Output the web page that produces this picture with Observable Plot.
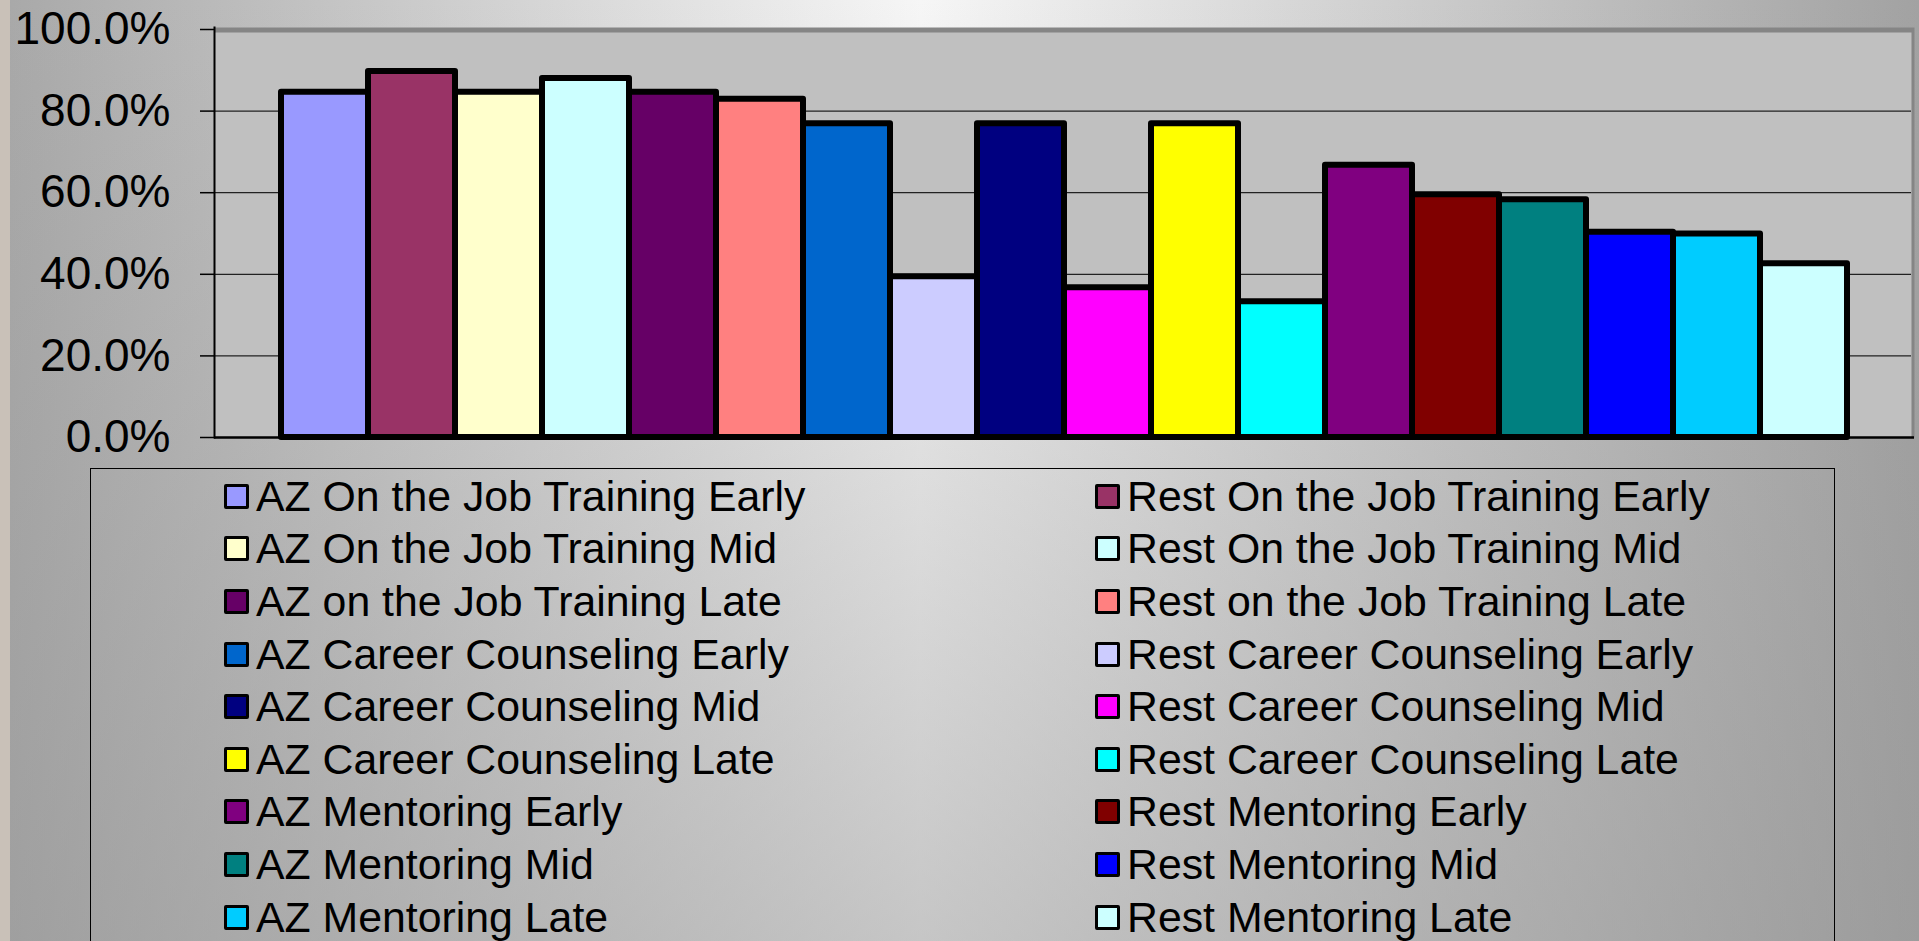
<!DOCTYPE html>
<html>
<head>
<meta charset="utf-8">
<script src="https://cdn.jsdelivr.net/npm/d3@7"></script>
<script src="https://cdn.jsdelivr.net/npm/@observablehq/plot@0.6"></script>
<style>
html, body { margin: 0; padding: 0; width: 1919px; height: 941px; overflow: hidden; }
body {
  position: relative;
  font-family: "Liberation Sans", Arial, sans-serif;
  background:
    linear-gradient(to right, #c9c1b8 0px, #c9c1b8 10px, transparent 10px),
    linear-gradient(to bottom, rgba(150,150,150,0) 0%, rgba(150,150,150,0.5) 100%),
    linear-gradient(to right, #a8a8a8 0%, #f6f6f6 48%, #a2a2a2 100%);
}
#chart { position: absolute; left: 0; top: 0; }
#legend {
  position: absolute; left: 90px; top: 468px; width: 1745px; height: 560px;
  border: 1.5px solid #000; box-sizing: border-box;
  display: grid; grid-template-columns: 871px auto; grid-auto-rows: 52.6px;
  padding-left: 133px; padding-top: 1px;
}
.item { display: flex; align-items: center; font-size: 42.8px; color: #000; white-space: nowrap; }
.sw { width: 25px; height: 25px; border: 3.5px solid #000; box-sizing: border-box; margin-right: 7px; border-radius: 2px; flex: none; }
</style>
</head>
<body>
<div id="chart"></div>
<div id="legend"></div>
<script>
const series = [
  "AZ On the Job Training Early", "Rest On the Job Training Early",
  "AZ On the Job Training Mid", "Rest On the Job Training Mid",
  "AZ on the Job Training Late", "Rest on the Job Training Late",
  "AZ Career Counseling Early", "Rest Career Counseling Early",
  "AZ Career Counseling Mid", "Rest Career Counseling Mid",
  "AZ Career Counseling Late", "Rest Career Counseling Late",
  "AZ Mentoring Early", "Rest Mentoring Early",
  "AZ Mentoring Mid", "Rest Mentoring Mid",
  "AZ Mentoring Late", "Rest Mentoring Late"
];
const values = [0.846, 0.897, 0.846, 0.880, 0.846, 0.829, 0.769, 0.394, 0.769, 0.367, 0.769, 0.333, 0.667, 0.595, 0.583, 0.503, 0.499, 0.426];
const colors = [
  "#9999FF", "#993366", "#FFFFCC", "#CCFFFF", "#660066", "#FF8080",
  "#0066CC", "#CCCCFF", "#000080", "#FF00FF", "#FFFF00", "#00FFFF",
  "#800080", "#800000", "#008080", "#0000FF", "#00CCFF", "#CCFFFF"
];
const yTicks = [0, 0.2, 0.4, 0.6, 0.8, 1.0];

const data = series.map((s, i) => ({series: s, value: values[i]}));

const chart = Plot.plot({
  width: 1919,
  height: 460,
  marginLeft: 214,
  marginRight: 5,
  marginTop: 27,
  marginBottom: 23,
  style: {background: "transparent", fontFamily: "'Liberation Sans', Arial, sans-serif", fontSize: "46px", color: "#000", overflow: "visible"},
  x: {domain: series, range: [279, 1848], padding: 0, axis: null},
  y: {domain: [0, 1], range: [437, 29], label: null},
  color: {domain: series, range: colors},
  marks: [
    Plot.frame({fill: "#858585"}),
    Plot.frame({fill: "#c0c0c0", insetTop: 5, insetRight: 3}),
    Plot.ruleY(yTicks.slice(1, -1), {stroke: "#222", strokeWidth: 1.3, insetRight: 3}),
    Plot.barY(data, {x: "series", y: "value", fill: "series", stroke: "#000", strokeWidth: 6, strokeLinejoin: "round"}),
    Plot.ruleY([0], {stroke: "#000", strokeWidth: 2.5}),
    Plot.frame({anchor: "left", stroke: "#000", strokeWidth: 2}),
    Plot.axisY(yTicks, {tickSize: 14, tickPadding: 30, tickFormat: d3.format(".1%"), fontSize: 46, stroke: "#000", strokeWidth: 1.5, label: null})
  ]
});
document.getElementById("chart").appendChild(chart);

const legend = document.getElementById("legend");
series.forEach((s, i) => {
  const item = document.createElement("div");
  item.className = "item";
  const sw = document.createElement("span");
  sw.className = "sw";
  sw.style.background = colors[i];
  const t = document.createElement("span");
  t.textContent = s;
  item.appendChild(sw);
  item.appendChild(t);
  legend.appendChild(item);
});
</script>
</body>
</html>
